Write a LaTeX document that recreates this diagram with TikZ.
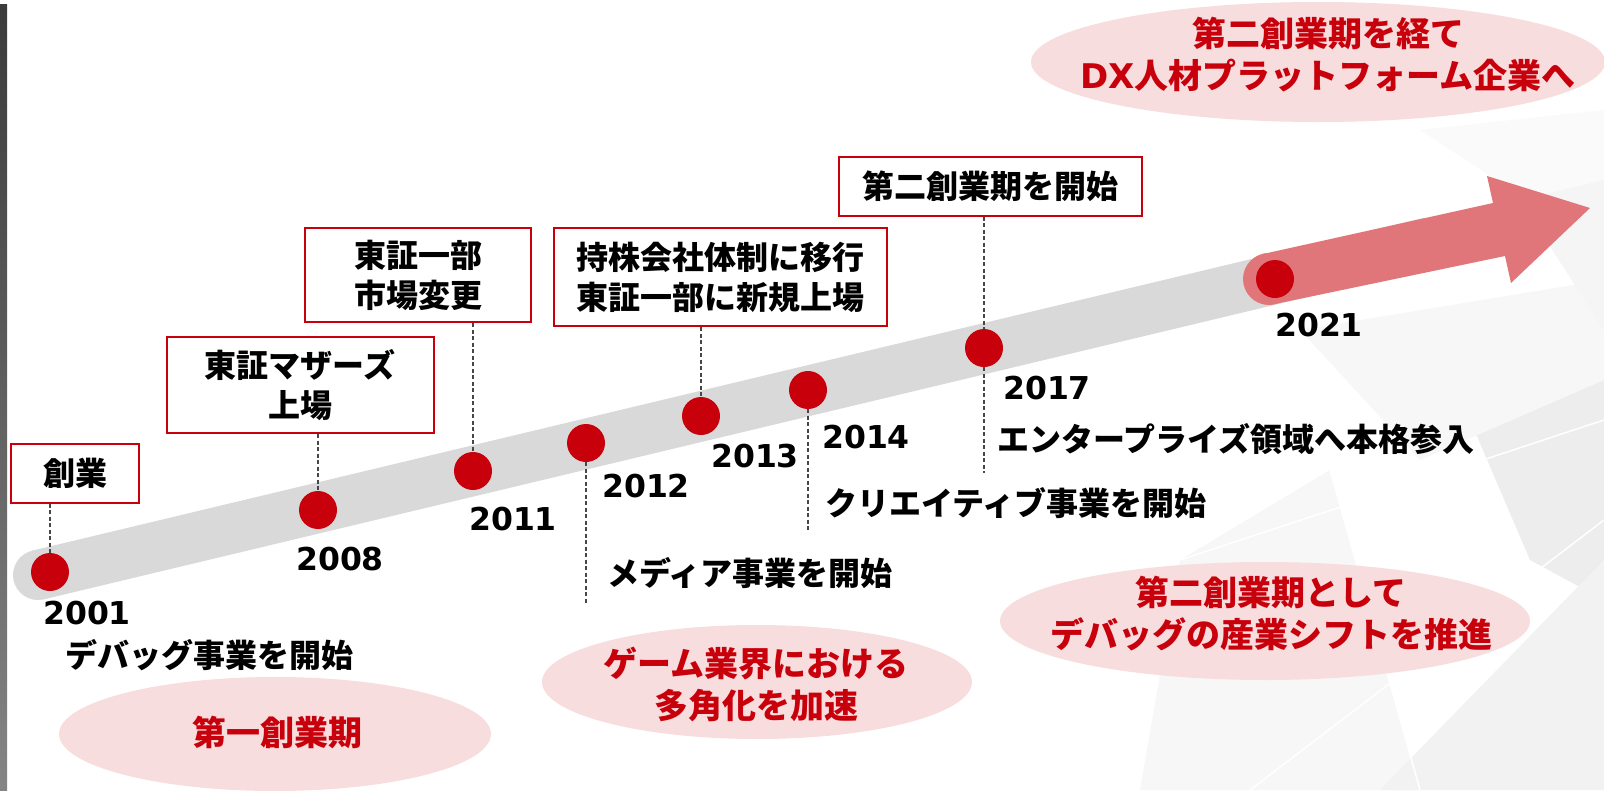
\documentclass[tikz,border=0pt]{standalone}
\usepackage{fontspec}
\newfontfamily\jp{Noto Sans CJK JP}
\newfontfamily\lat{DejaVu Sans}
\usetikzlibrary{shapes.geometric}
\definecolor{bandgray}{RGB}{217,217,217}
\definecolor{dotred}{RGB}{200,0,11}
\definecolor{arrowpink}{RGB}{224,118,122}
\definecolor{ellpink}{RGB}{248,221,222}
\definecolor{dashgray}{RGB}{70,70,70}
\begin{document}
\begin{tikzpicture}[x=1pt,y=-1pt,
  stepbox/.style={draw=dotred, line width=2pt, fill=white, inner sep=0pt, align=center,
    font=\jp\bfseries\fontsize{32}{40}\selectfont},
  dot/.style={circle, fill=dotred, minimum size=38pt, inner sep=0pt},
  year/.style={anchor=west, inner sep=0pt, font=\lat\bfseries\fontsize{31.5}{36}\selectfont},
  desc/.style={anchor=west, inner sep=0pt, font=\jp\bfseries\fontsize{32}{40}\selectfont},
  period/.style={ellipse, fill=ellpink, inner sep=0pt},
  ptext/.style={inner sep=0pt, align=center, text=dotred,
    font=\jp\bfseries\fontsize{34}{42}\selectfont},
  dashline/.style={draw=dashgray, line width=1.5pt, dash pattern=on 4pt off 2.5pt}]
\useasboundingbox (0,0) rectangle (1604,790);
\fill[white] (0,0) rectangle (1604,790);
% faint background facets
\fill[black!3] (1140,790) -- (1180,560) -- (1330,470) -- (1420,790) -- cycle;
\fill[black!7] (1470,420) -- (1604,370) -- (1604,600) -- (1530,560) -- cycle;
\fill[black!5] (1380,790) -- (1604,560) -- (1604,790) -- cycle;
\fill[black!3] (1300,330) -- (1604,280) -- (1604,380) -- (1420,460) -- cycle;
\fill[black!2] (1420,130) -- (1604,110) -- (1604,250) -- cycle;
\fill[black!4] (1520,200) -- (1604,180) -- (1604,330) -- cycle;
\draw[white, line width=1.5pt] (1180,560) -- (1604,420) (1330,470) -- (1420,790) (1250,790) -- (1604,520);
% left bar
\shade[top color=black!77, bottom color=black!48] (0,4) rectangle (7,790);
% band
\fill[bandgray] (38,575) circle[radius=25];
\draw[bandgray, line width=50pt] (38,575) -- (1430,242);
% arrow
\fill[arrowpink] (1269,279) circle[radius=26];
\fill[arrowpink] (1263,254) -- (1493,203) -- (1487,176) -- (1590,208) -- (1511,283) -- (1505,256) -- (1275,304) -- cycle;
% ellipses
\node[period, minimum width=432pt, minimum height=114pt] (p1) at (275,734) {};
\node[period, minimum width=430pt, minimum height=114pt] (p2) at (757,682) {};
\node[period, minimum width=530pt, minimum height=118pt] (p3) at (1265,621) {};
\node[period, minimum width=574pt, minimum height=120pt] (p4) at (1318,62) {};
\node[ptext] (p1t) at (277,732) {第一創業期};
\node[ptext] (p2t) at (756,684) {ゲーム業界における\\多角化を加速};
\node[ptext] (p3t) at (1271,614) {第二創業期として\\デバッグの産業シフトを推進};
\node[ptext] (p4t) at (1328,55) {第二創業期を経て\\{\lat DX}人材プラットフォーム企業へ};
% boxes
\node[stepbox, minimum width=128pt, minimum height=59pt] (b01) at (75,473) {創業};
\node[stepbox, minimum width=267pt, minimum height=96pt] (b08) at (300,385) {東証マザーズ\\上場};
\node[stepbox, minimum width=226pt, minimum height=94pt] (b11) at (418,275) {東証一部\\市場変更};
\node[stepbox, minimum width=333pt, minimum height=98pt] (b13) at (720,277) {持株会社体制に移行\\東証一部に新規上場};
\node[stepbox, minimum width=303pt, minimum height=59pt] (b17) at (990,186) {第二創業期を開始};
% dots
\node[dot] (d01) at (50,572) {};
\node[dot] (d08) at (318,510) {};
\node[dot] (d11) at (473,471) {};
\node[dot] (d12) at (586,443) {};
\node[dot] (d13) at (701,416) {};
\node[dot] (d14) at (808,390) {};
\node[dot] (d17) at (984,348) {};
\node[dot] (d21) at (1275,279) {};
% dashed connectors
\coordinate (e12) at (586,604);
\coordinate (e14) at (808,530);
\coordinate (e17) at (984,473);
\draw[dashline] (b01.south -| d01) -- (d01.north);
\draw[dashline] (b08.south -| d08) -- (d08.north);
\draw[dashline] (b11.south -| d11) -- (d11.north);
\draw[dashline] (b13.south -| d13) -- (d13.north);
\draw[dashline] (b17.south -| d17) -- (d17.north);
\draw[dashline] (d12.south) -- (e12);
\draw[dashline] (d14.south) -- (e14);
\draw[dashline] (d17.south) -- (e17);
% years
\node[year] (y01) at (43,613) {2001};
\node[year] (y08) at (296,559) {2008};
\node[year] (y11) at (469,519) {2011};
\node[year] (y12) at (602,486) {2012};
\node[year] (y13) at (711,456) {2013};
\node[year] (y14) at (822,437) {2014};
\node[year] (y17) at (1003,388) {2017};
\node[year] (y21) at (1275,325) {2021};
% descriptions
\node[desc] (t01) at (65,655) {デバッグ事業を開始};
\node[desc] (t12) at (607,573) {メディア事業を開始};
\node[desc] (t14) at (825,503) {クリエイティブ事業を開始};
\node[desc] (t17) at (997,439) {エンタープライズ領域へ本格参入};
\end{tikzpicture}
\end{document}
